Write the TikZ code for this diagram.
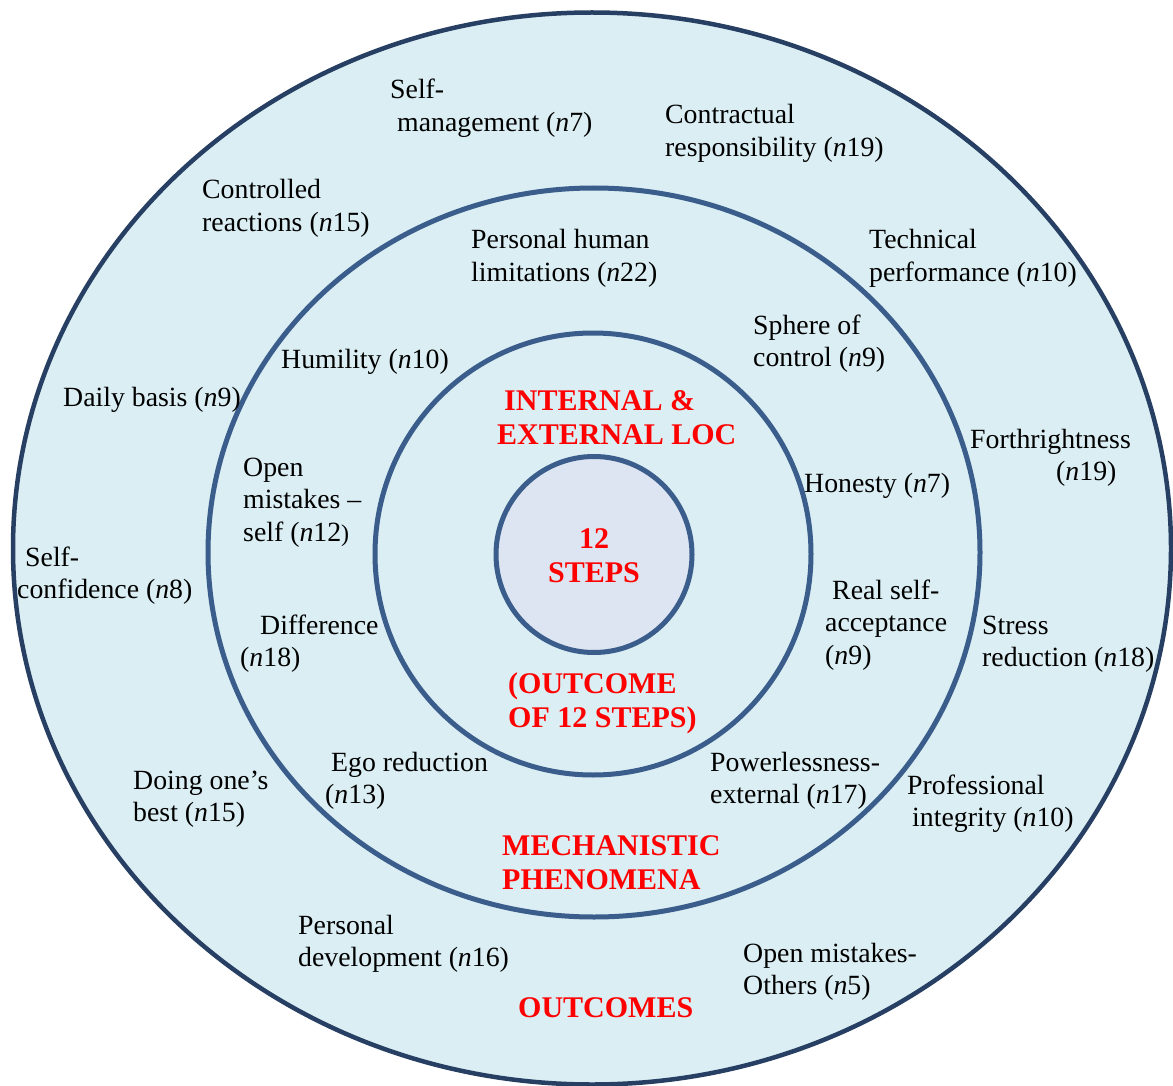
\documentclass[tikz,border=0pt]{standalone}
\usepackage{fontspec}
\setmainfont{Liberation Serif}

\definecolor{outerline}{HTML}{263F63}
\definecolor{ringline}{HTML}{3A5D8B}
\definecolor{ringfill}{HTML}{DAEEF3}
\definecolor{corefill}{HTML}{DCE5F1}
\definecolor{hdrred}{HTML}{FF0000}

% one line of a stacked label, with an optional left indent (pt)
\newcommand\tline[2][0]{\hbox{\kern#1pt #2}}
% a stack of lines whose baseline is the first line's
\newcommand\lines[1]{\vtop{#1}}
% one centred line of zero width
\newcommand\ctrline[1]{\hbox to 0pt{\hss #1\hss}}
\newcommand\nn[1]{(\textit{n}#1)}

\tikzset{
  lbl/.style={anchor=base west, inner sep=0pt, font=\fontsize{27.8}{32.5}\selectfont},
  hdr/.style={anchor=base west, inner sep=0pt, text=hdrred, font=\fontsize{30}{34.5}\selectfont\bfseries},
  ring/.style={draw=ringline, line width=5pt, fill=ringfill},
}

\begin{document}
\begin{tikzpicture}[x=1pt, y=-1pt]
\fill[white] (0,0) rectangle (1173,1086);
\useasboundingbox (0,0) rectangle (1173,1086);

% concentric rings
\draw[draw=outerline, line width=4.5pt, fill=ringfill] (592,548.5) ellipse [x radius=579pt, y radius=536pt];
\draw[ring] (594,552.5) ellipse [x radius=386pt, y radius=364.5pt];
\draw[ring] (593,554) ellipse [x radius=218pt, y radius=221pt];
\draw[ring, fill=corefill] (594,554.5) circle [radius=98pt];

% centre
\node[hdr, anchor=base] (core) at (594,548) {\lines{\ctrline{12}\ctrline{STEPS}}};

% headings
\node[hdr] (loc) at (497,410) {\lines{\tline[7]{INTERNAL \&}\tline{EXTERNAL LOC}}};
\node[hdr] (outcome12) at (508,693) {\lines{\tline{(OUTCOME}\tline{OF 12 STEPS)}}};
\node[hdr] (mech) at (502,855) {\lines{\tline{MECHANISTIC}\tline{PHENOMENA}}};
\node[hdr] (outcomes) at (518,1017) {OUTCOMES};

% inner ring labels
\node[lbl] (limits) at (471,249) {\lines{\tline{Personal human}\tline{limitations \nn{22}}}};
\node[lbl] (sphere) at (753,334) {\lines{\tline{Sphere of}\tline{control \nn{9}}}};
\node[lbl] (humility) at (281,368) {Humility \nn{10}};
\node[lbl] (openself) at (243,476) {\lines{\tline{Open}\tline{mistakes –}\tline{self (\textit{n}12{\fontsize{24}{28}\selectfont)}}}};
\node[lbl] (honesty) at (804,492) {Honesty \nn{7}};
\node[lbl] (accept) at (825,599) {\lines{\tline[7]{Real self-}\tline{acceptance}\tline{\nn{9}}}};
\node[lbl] (difference) at (240,634) {\lines{\tline[20]{Difference}\tline{\nn{18}}}};
\node[lbl] (ego) at (325,771) {\lines{\tline[6]{Ego reduction}\tline{\nn{13}}}};
\node[lbl] (powerless) at (710,771) {\lines{\tline{Powerlessness-}\tline{external \nn{17}}}};

% outer ring labels
\node[lbl] (selfmgmt) at (390,99) {\lines{\tline{Self-}\tline[7]{management \nn{7}}}};
\node[lbl] (contract) at (665,124) {\lines{\tline{Contractual}\tline{responsibility \nn{19}}}};
\node[lbl] (controlled) at (202,199) {\lines{\tline{Controlled}\tline{reactions \nn{15}}}};
\node[lbl] (technical) at (869,249) {\lines{\tline{Technical}\tline{performance \nn{10}}}};
\node[lbl] (daily) at (63,406) {Daily basis \nn{9}};
\node[lbl] (forth) at (970,448) {\lines{\tline{Forthrightness}\tline[86]{\nn{19}}}};
\node[lbl] (confidence) at (17,566) {\lines{\tline[8]{Self-}\tline{confidence \nn{8}}}};
\node[lbl] (stress) at (982,634) {\lines{\tline{Stress}\tline{reduction \nn{18}}}};
\node[lbl] (doing) at (133,789) {\lines{\tline{Doing one’s}\tline{best \nn{15}}}};
\node[lbl] (integrity) at (907,794) {\lines{\tline{Professional}\tline[5]{integrity \nn{10}}}};
\node[lbl] (development) at (298,934) {\lines{\tline{Personal}\tline{development \nn{16}}}};
\node[lbl] (openothers) at (743,962) {\lines{\tline{Open mistakes-}\tline{Others \nn{5}}}};
\end{tikzpicture}
\end{document}
